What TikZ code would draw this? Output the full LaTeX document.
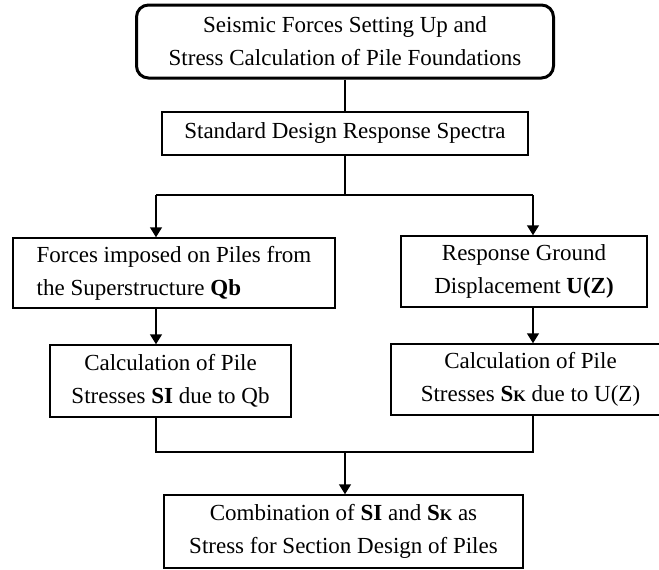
\documentclass[tikz,border=0pt]{standalone}
\usepackage{fontspec}
\setmainfont{Liberation Serif}
\usetikzlibrary{arrows.meta}
\newcommand{\subk}{{\fontsize{16}{16}\selectfont K}}

\begin{document}
\begin{tikzpicture}[x=1pt,y=-1pt,
            box/.style={draw, line width=1.5pt, inner sep=0pt, align=center,
                font=\fontsize{23}{33}\selectfont},
            link/.style={line width=1.5pt},
            arr/.style={line width=1.5pt, -{Triangle[width=12pt,length=10pt]}}]
            \useasboundingbox (0,0) rectangle (659,570);
            \node[box, line width=3pt, rounded corners=12pt, minimum width=417pt, minimum height=73pt] (head) at (345,41.5)
                {Seismic Forces Setting Up and\\Stress Calculation of Pile Foundations};
            \node[box, minimum width=366pt, minimum height=43pt] (spectra) at (345,133.5)
                {Standard Design Response Spectra};
            \node[box, align=left, minimum width=322pt, minimum height=70pt] (forces) at (174,273)
                {Forces imposed on Piles from\\the Superstructure \textbf{Qb}};
            \node[box, minimum width=246pt, minimum height=71pt] (ground) at (524,271.5)
                {Response Ground\\Displacement \textbf{U(Z)}};
            \node[box, minimum width=241pt, minimum height=72pt] (stressqb) at (170.5,381)
                {Calculation of Pile\\Stresses \textbf{SI} due to Qb};
            \node[box, minimum width=279pt, minimum height=71pt] (stressuz) at (530.5,379.5)
                {Calculation of Pile\\Stresses \textbf{S\subk} due to U(Z)};
            \node[box, minimum width=359pt, minimum height=73pt] (combine) at (343.5,531.5)
                {Combination of \textbf{SI} and \textbf{S\subk} as\\Stress for Section Design of Piles};
            \coordinate (split) at (345,195);
            \coordinate (lsplit) at (156,195);
            \coordinate (rsplit) at (533,195);
            \coordinate (join) at (345,452);
            \draw[link] (head) -- (spectra);
            \draw[link] (spectra) -- (split);
            \draw[link] (lsplit) -- (rsplit);
            \draw[arr] (lsplit) -- (lsplit |- forces.north);
            \draw[arr] (rsplit) -- (rsplit |- ground.north);
            \draw[arr] (lsplit |- forces.south) -- (lsplit |- stressqb.north);
            \draw[arr] (rsplit |- ground.south) -- (rsplit |- stressuz.north);
            \draw[link] (lsplit |- stressqb.south) |- (join) -| (rsplit |- stressuz.south);
            \draw[arr] (join) -- (join |- combine.north);
        \end{tikzpicture}
\end{document}
